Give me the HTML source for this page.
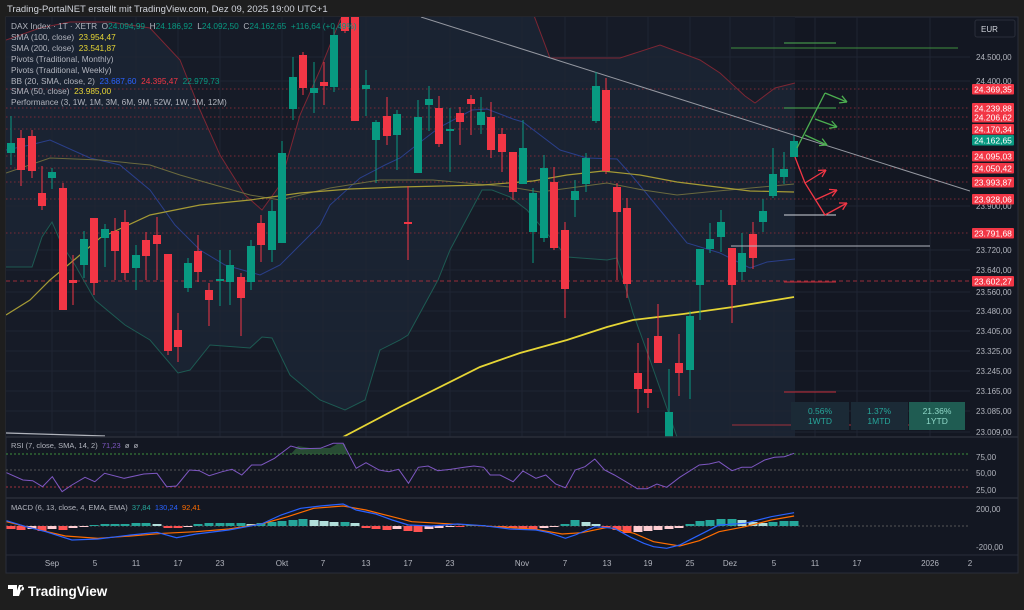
<!DOCTYPE html>
<html><head><meta charset="utf-8">
<style>
html,body{margin:0;padding:0;background:#1e1e1e;width:1024px;height:610px;overflow:hidden;font-family:"Liberation Sans",sans-serif;}
svg{position:absolute;left:0;top:0}
text{white-space:pre}
</style></head><body>
<svg id="s" width="1024" height="610" xmlns="http://www.w3.org/2000/svg"></svg>
<script>
var o=[];
function P(pts){return pts.map(function(p,i){return (i?'L':'M')+p[0]+' '+p[1]}).join(' ');}
function T(x,y,t,c,sz,anc,w){o.push('<text x="'+x+'" y="'+y+'" fill="'+c+'" font-size="'+(sz||9)+'" '+(anc?'text-anchor="'+anc+'"':'')+(w?' font-weight="bold"':'')+' font-family="Liberation Sans, sans-serif">'+t+'</text>');}
var G='#089981',R='#f23645';
T(7,12,'Trading-PortalNET erstellt mit TradingView.com, Dez 09, 2025 19:00 UTC+1','#d1d4dc',9.5);
o.push('<rect x="6" y="17" width="1012" height="556" fill="#131722" stroke="#2a2e39"/>');
o.push('<rect x="6" y="17" width="789" height="420" fill="#161b27"/>');
var up=[[6,40],[40,28],[70,22],[110,22],[150,28],[180,60],[200,110],[220,155],[245,195],[262,210],[280,185],[300,115],[320,70],[340,20],[350,5],[530,5],[550,58],[620,58],[660,45],[700,60],[720,73],[745,96],[755,103],[775,88],[795,83]];
var lo=[[6,267],[32,267],[42,237],[52,222],[62,245],[75,265],[95,300],[125,325],[150,340],[178,373],[190,370],[210,345],[250,348],[262,337],[272,338],[290,375],[320,400],[345,410],[365,400],[380,350],[400,340],[408,335],[438,280],[450,250],[482,190],[492,190],[510,197],[527,210],[567,257],[607,260],[617,258],[633,313],[650,360],[677,437],[690,470],[770,470],[795,440]];
o.push('<defs><clipPath id="mc"><rect x="6" y="17" width="964" height="420"/></clipPath><clipPath id="rc"><rect x="6" y="437" width="964" height="136"/></clipPath></defs>');
o.push('<g clip-path="url(#mc)">');
o.push('<path d="'+P(up)+' '+P(lo.slice().reverse()).replace('M','L')+' Z" fill="#1f2a3d" opacity="0.55"/>');
var vx=[52,95,136,178,220,282,323,366,408,450,522,565,607,648,690,730,774,815,857,930];
vx.forEach(function(x){o.push('<line x1="'+x+'" y1="17" x2="'+x+'" y2="555" stroke="#1f2433" stroke-width="1"/>');});
[57,81,250,270,292,311,331,351,371,391,411,432,206].forEach(function(y){o.push('<line x1="6" y1="'+y+'" x2="970" y2="'+y+'" stroke="#1f2433"/>');});
[89,108,117,129,156,168,182,199,233].forEach(function(y){o.push('<line x1="6" y1="'+y+'" x2="970" y2="'+y+'" stroke="#7a2a35" stroke-dasharray="1.5,2.5" stroke-width="1"/>');});
o.push('<line x1="6" y1="281" x2="970" y2="281" stroke="#9b2c3a" stroke-dasharray="4,3"/>');
o.push('<path d="'+P(up)+'" fill="none" stroke="#7d2633" stroke-width="1"/>');
o.push('<path d="'+P(lo)+'" fill="none" stroke="#1d5a52" stroke-width="1"/>');
var bas=[[6,150],[30,145],[50,140],[90,158],[120,165],[150,190],[175,225],[200,250],[225,265],[260,275],[280,265],[300,245],[320,225],[330,205],[360,178],[385,165],[400,158],[423,140],[440,127],[472,110],[487,109],[513,119],[523,122],[560,150],[587,158],[617,159],[633,177],[660,210],[687,243],[720,253],[750,268],[767,262],[795,259]];
o.push('<path d="'+P(bas)+'" fill="none" stroke="#2a3f8a" stroke-width="1"/>');
var s100=[[6,173],[50,158],[100,160],[150,165],[180,175],[250,195],[280,200],[330,188],[380,180],[433,180],[510,187],[540,192],[607,183],[643,190],[677,195],[707,192],[794,184]];
o.push('<path d="'+P(s100)+'" fill="none" stroke="#6b6a3e" stroke-width="1"/>');
var s50=[[6,315],[30,300],[50,280],[80,255],[100,238],[150,215],[200,205],[250,200],[300,193],[350,189],[400,187],[483,185],[533,181],[567,175],[603,171],[640,175],[677,182],[717,187],[750,191],[794,192]];
o.push('<path d="'+P(s50)+'" fill="none" stroke="#a59a35" stroke-width="1.2"/>');
o.push('<path d="'+P([[343,437],[400,407],[480,367],[520,353],[567,340],[607,327],[633,320],[683,314],[733,307],[794,297]])+'" fill="none" stroke="#e5d535" stroke-width="1.8"/>');
o.push('<line x1="421" y1="17" x2="970" y2="191" stroke="#9598a1" stroke-width="1"/>');
o.push('<line x1="6" y1="433" x2="105" y2="436" stroke="#b0b3bb" stroke-width="1.2"/>');
var C=[[11,143,153,116,165,1],[21,138,170,130,186,0],[32,136,171,130,178,0],[42,193,206,166,210,0],[52,172,178,168,189,1],[63,188,310,183,310,0],[73,280,283,255,305,0],[84,239,265,231,278,1],[94,218,283,218,295,0],[105,229,238,224,267,1],[115,231,251,218,280,0],[125,222,273,210,280,0],[136,255,268,245,290,1],[146,240,256,232,280,0],[157,235,244,217,280,0],[168,254,351,254,355,0],[178,330,347,313,362,0],[188,263,288,258,292,1],[198,251,272,235,282,0],[209,290,300,283,326,0],[220,279,281,250,306,1],[230,265,282,250,305,1],[241,277,298,273,336,0],[251,246,282,240,290,1],[261,223,245,215,262,0],[272,211,250,200,262,1],[282,153,243,141,243,1],[293,77,109,57,120,1],[303,55,88,52,95,0],[314,88,93,62,113,1],[324,82,86,62,105,0],[334,35,87,27,92,1],[345,10,31,5,33,0],[355,10,121,5,121,0],[366,85,89,70,116,1],[376,122,140,120,183,1],[387,116,136,97,145,0],[397,114,135,110,170,1],[408,222,224,186,260,0],[418,117,173,100,173,1],[429,99,105,86,131,1],[439,108,144,96,147,0],[450,129,131,108,172,1],[460,113,122,107,145,0],[471,99,104,95,135,0],[481,112,125,97,134,1],[491,117,150,102,158,0],[502,134,152,128,172,0],[513,152,192,152,200,0],[523,148,184,120,184,1],[533,193,232,188,263,1],[544,168,238,155,242,1],[554,182,248,167,250,0],[565,230,289,222,318,0],[575,191,200,180,217,1],[586,158,184,153,192,1],[596,86,121,72,123,1],[606,90,171,78,174,0],[617,187,212,183,280,0],[627,208,284,198,298,0],[638,373,389,343,413,0],[648,389,393,338,408,0],[658,336,363,304,363,0],[669,412,445,369,445,1],[679,363,373,334,396,0],[690,316,370,311,399,1],[700,249,285,249,320,1],[710,239,249,223,253,1],[721,222,237,210,252,1],[732,248,285,248,323,0],[742,253,272,233,280,1],[753,234,258,222,269,0],[763,211,222,199,232,1],[773,174,196,148,198,1],[784,169,177,152,184,1],[794,141,157,136,157,1]];
C.forEach(function(c){var col=c[5]?G:R;o.push('<line x1="'+c[0]+'" y1="'+c[3]+'" x2="'+c[0]+'" y2="'+c[4]+'" stroke="'+col+'"/>');o.push('<rect x="'+(c[0]-4)+'" y="'+c[1]+'" width="8" height="'+Math.max(1.5,c[2]-c[1])+'" fill="'+col+'"/>');});
[[784,836,43,'#4caf50'],[731,958,48,'#3f8f3f'],[784,836,108,'#4caf50'],[784,836,215,'#d1d4dc'],[731,930,246,'#b2b5be'],[784,836,282,'#c62e3a'],[784,836,392,'#c62e3a'],[732,931,425,'#a0303c']].forEach(function(l){o.push('<line x1="'+l[0]+'" y1="'+l[2]+'" x2="'+l[1]+'" y2="'+l[2]+'" stroke="'+l[3]+'" stroke-width="1"/>');});
function arr(x1,y1,x2,y2,c){o.push('<line x1="'+x1+'" y1="'+y1+'" x2="'+x2+'" y2="'+y2+'" stroke="'+c+'" stroke-width="1.3"/>');var a=Math.atan2(y2-y1,x2-x1),L=8;[0.5,-0.5].forEach(function(d){o.push('<line x1="'+x2+'" y1="'+y2+'" x2="'+(x2-L*Math.cos(a+d))+'" y2="'+(y2-L*Math.sin(a+d))+'" stroke="'+c+'" stroke-width="1.3"/>');});}
var gg='#4caf50',rr='#f23645';
o.push('<path d="M797 148 L825 93" stroke="'+gg+'" stroke-width="1.3" fill="none"/>');
arr(825,93,847,102,gg);arr(815,119,837,127,gg);arr(805,135,827,145,gg);
o.push('<path d="M795 157 L805 183 L825 215" stroke="'+rr+'" stroke-width="1.3" fill="none"/>');
arr(805,183,826,170,rr);arr(815,200,837,190,rr);arr(825,215,847,203,rr);
o.push('<rect x="791" y="402" width="58" height="28" fill="#1b2a36"/><rect x="851" y="402" width="57" height="28" fill="#1b2a36"/><rect x="909" y="402" width="56" height="28" fill="#1f5c52"/>');
T(820,414,'0.56%','#26a69a',8.5,'middle');T(820,424,'1WTD','#26a69a',8.5,'middle');
T(879,414,'1.37%','#26a69a',8.5,'middle');T(879,424,'1MTD','#26a69a',8.5,'middle');
T(937,414,'21.36%','#8fd8c8',8.5,'middle');T(937,424,'1YTD','#8fd8c8',8.5,'middle');
o.push('</g>');
var ly=[29,40,51,62,73,84,94,105];
var F=' font-size="8.3" font-family="Liberation Sans, sans-serif" fill="#b2b5be"';
o.push('<text x="11" y="'+ly[0]+'"'+F+'>DAX Index · 1T · XETR  O<tspan fill="#089981">24.094,99</tspan>  H<tspan fill="#089981">24.186,92</tspan>  L<tspan fill="#089981">24.092,50</tspan>  C<tspan fill="#089981">24.162,65  +116,64 (+0,49%)</tspan></text>');
o.push('<text x="11" y="'+ly[1]+'"'+F+'>SMA (100, close)  <tspan fill="#e5d535">23.954,47</tspan></text>');
o.push('<text x="11" y="'+ly[2]+'"'+F+'>SMA (200, close)  <tspan fill="#e5d535">23.541,87</tspan></text>');
T(11,ly[3],'Pivots (Traditional, Monthly)','#b2b5be',8.3);
T(11,ly[4],'Pivots (Traditional, Weekly)','#b2b5be',8.3);
o.push('<text x="11" y="'+ly[5]+'"'+F+'>BB (20, SMA, close, 2)  <tspan fill="#2962ff">23.687,60</tspan>  <tspan fill="#f23645">24.395,47</tspan>  <tspan fill="#089981">22.979,73</tspan></text>');
o.push('<text x="11" y="'+ly[6]+'"'+F+'>SMA (50, close)  <tspan fill="#e5d535">23.985,00</tspan></text>');
T(11,ly[7],'Performance (3, 1W, 1M, 3M, 6M, 9M, 52W, 1W, 1M, 12M)','#b2b5be',8.3);
o.push('<line x1="6" y1="437" x2="1018" y2="437" stroke="#2a2e39" stroke-width="1.5"/><line x1="6" y1="498" x2="1018" y2="498" stroke="#2a2e39" stroke-width="1.5"/><line x1="6" y1="555" x2="1018" y2="555" stroke="#2a2e39"/>');
o.push('<g clip-path="url(#rc)">');
o.push('<line x1="6" y1="454" x2="970" y2="454" stroke="#3c8f3c" stroke-dasharray="2,2"/><line x1="6" y1="470" x2="970" y2="470" stroke="#555" stroke-dasharray="2,2"/><line x1="6" y1="487" x2="970" y2="487" stroke="#a0303c" stroke-dasharray="2,2"/>');
var rs=[[10,278],[35,300],[50,302],[65,320],[80,290],[95,335],[110,315],[130,292],[145,305],[160,280],[190,295],[220,282],[240,280],[255,320],[270,318],[290,270],[305,272],[320,287],[340,275],[355,268],[370,285],[385,255],[400,255],[420,235],[445,198],[460,206],[490,205],[510,190],[525,190],[545,265],[560,248],[580,270],[595,275],[610,268],[625,310],[640,262],[655,258],[670,272],[690,268],[710,262],[725,258],[740,262],[750,285],[765,285],[785,305],[800,273],[820,295],[835,285],[850,312],[865,323],[880,270],[895,260],[910,237],[925,270],[940,285],[960,308],[975,326],[990,326],[1005,312],[1020,322],[1040,292],[1070,255],[1085,252],[1100,245],[1120,272],[1135,262],[1150,262],[1170,240],[1185,232],[1200,230],[1215,220]].map(function(p){return [+(p[0]/1.53).toFixed(1),+(380+p[1]/3).toFixed(1)];});
o.push('<path d="M291 454 L298 446 L310 448 L330 448 L337 444 L345 444 L347 454 Z" fill="#2e5a3a" opacity="0.8"/>');
o.push('<path d="'+P(rs)+'" fill="none" stroke="#7e57c2" stroke-width="1"/>');
o.push('<line x1="6" y1="526" x2="970" y2="526" stroke="#555" stroke-dasharray="2,2"/>');
var H=[-3,-4,-3,-5,-3,-4,-2,-1,1,2,2,2,3,3,2,-2,-2,-1,2,3,3,3,3,2,3,4,5,6,7,6,5,4,4,3,-2,-3,-4,-3,-5,-6,-3,-2,-1,-1,1,1,-1,-2,-2,-3,-4,-2,-1,2,6,4,2,-1,-4,-7,-6,-5,-4,-3,-2,2,5,6,7,7,6,4,3,4,5,5];
H.forEach(function(h,i){var x=C[i][0];var col=h>=0?(i>0&&h<H[i-1]?'#b2dfdb':'#26a69a'):(i>0&&h>H[i-1]?'#ffcdd2':'#ff5252');o.push('<rect x="'+(x-4.5)+'" y="'+(h>=0?526-h:526)+'" width="9" height="'+Math.abs(h)+'" fill="'+col+'"/>');});
var mb=[[10,422],[40,440],[70,455],[110,480],[150,477],[200,465],[240,457],[270,473],[300,462],[350,450],[400,432],[430,405],[460,385],[490,378],[525,372],[545,390],[575,402],[600,420],[625,435],[660,438],[700,432],[740,437],[780,447],[820,450],[840,458],[865,475],[880,465],[910,440],[940,445],[965,472],[985,490],[1000,500],[1020,505],[1040,495],[1060,475],[1080,455],[1100,435],[1140,430],[1180,410],[1215,398]];
var ms=[[10,425],[50,445],[100,468],[150,475],[200,468],[250,460],[300,455],[350,447],[400,432],[440,410],[480,385],[525,378],[560,390],[600,410],[630,425],[700,433],[760,440],[820,448],[860,462],[890,458],[930,442],[970,460],[1000,485],[1040,498],[1070,482],[1100,455],[1140,440],[1180,420],[1215,408]];
function cv(a){return a.map(function(p){return [+(p[0]/1.53).toFixed(1),+(380+p[1]/3).toFixed(1)];});}
o.push('<path d="'+P(cv(ms))+'" fill="none" stroke="#ff6d00" stroke-width="1.2"/>');
o.push('<path d="'+P(cv(mb))+'" fill="none" stroke="#2962ff" stroke-width="1.2"/>');
o.push('</g>');
T(11,448,'RSI (7, close, SMA, 14, 2)  <tspan fill="#7e57c2">71,23</tspan>  ø  ø','#b2b5be',7.5);
T(11,510,'MACD (6, 13, close, 4, EMA, EMA)  <tspan fill="#26a69a">37,84</tspan>  <tspan fill="#2962ff">130,24</tspan>  <tspan fill="#ff6d00">92,41</tspan>','#b2b5be',7.5);
[['24.500,00',57],['24.400,00',81],['23.900,00',206],['23.720,00',250],['23.640,00',270],['23.560,00',292],['23.480,00',311],['23.405,00',331],['23.325,00',351],['23.245,00',371],['23.165,00',391],['23.085,00',411],['23.009,00',432],['75,00',457],['50,00',473],['25,00',490],['200,00',509],['-200,00',547]].forEach(function(l){T(976,l[1]+3,l[0],'#b2b5be',8);});
[['24.369,35',89,R],['24.239,88',108,R],['24.206,62',117,R],['24.170,34',129,R],['24.162,65',140,G],['24.095,03',156,R],['24.050,42',168,R],['23.993,87',182,R],['23.928,06',199,R],['23.791,68',233,R],['23.602,27',281,R]].forEach(function(l){o.push('<rect x="972" y="'+(l[1]-5)+'" width="42" height="10.5" rx="1" fill="'+l[2]+'"/>');T(993,l[1]+3.5,l[0],'#fff',8.5,'middle');});
o.push('<rect x="975" y="20" width="40" height="17" rx="2" fill="#131722" stroke="#2a2e39"/>');T(981,32,'EUR','#d1d4dc',8);
[['Sep',52],['5',95],['11',136],['17',178],['23',220],['Okt',282],['7',323],['13',366],['17',408],['23',450],['Nov',522],['7',565],['13',607],['19',648],['25',690],['Dez',730],['5',774],['11',815],['17',857],['2026',930],['2',970]].forEach(function(l){T(l[1],566,l[0],'#b2b5be',8,'middle');});
o.push('<path d="M8 585 h9 v11 h-4 v-7 h-5z M19 585 h4 l-4 11 h-4z M22 586.5 a2 2 0 1 0 0.1 0z" fill="#fff"/>');
T(28,596,'TradingView','#ffffff',13.5,null,true);
document.getElementById('s').innerHTML=o.join('');
</script>
</body></html>
